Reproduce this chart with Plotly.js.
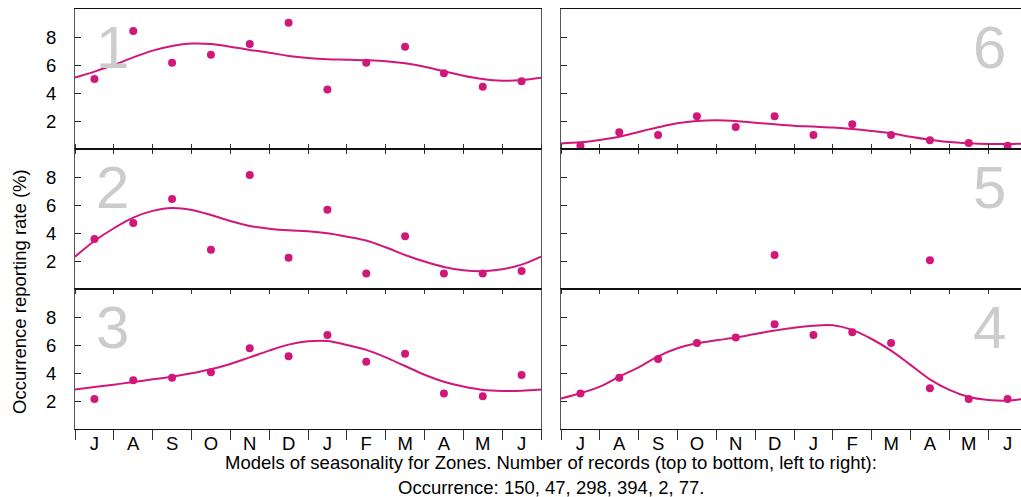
<!DOCTYPE html>
<html>
<head>
<meta charset="utf-8">
<script src="https://cdn.plot.ly/plotly-3.0.1.min.js"></script>
<style>
html,body{margin:0;padding:0;overflow:hidden;background:#fff;}
#chart{width:1040px;height:497px;}
</style>
</head>
<body>
<div id="chart"></div>
<script>
// ---- data ----
const months = ['J','A','S','O','N','D','J','F','M','A','M','J'];
const monthCenters = [0.5,1.5,2.5,3.5,4.5,5.5,6.5,7.5,8.5,9.5,10.5,11.5];
const monthEdges = [0,1,2,3,4,5,6,7,8,9,10,11,12];
const curveX = [0,0.5,1,1.5,2,2.5,3,3.5,4,4.5,5,5.5,6,6.5,7,7.5,8,8.5,9,9.5,10,10.5,11,11.5,12];
const panelLabels = ['1','2','3','6','5','4'];

const zone1Obs = [5.02,8.45,6.19,6.76,7.52,9.04,4.28,6.19,7.33,5.43,4.47,4.86];
const zone1Fit = [5.12,5.55,6.02,6.57,7.05,7.38,7.55,7.52,7.33,7.1,6.9,6.67,6.52,6.43,6.4,6.36,6.29,6.14,5.9,5.57,5.26,5.02,4.9,4.95,5.12];

const zone2Obs = [3.6,4.74,6.45,2.83,8.17,2.26,5.69,1.12,3.79,1.12,1.12,1.31];
const zone2Fit = [2.33,3.45,4.36,5.12,5.6,5.81,5.67,5.31,4.88,4.52,4.33,4.21,4.14,4.0,3.76,3.48,3.0,2.45,1.98,1.6,1.36,1.29,1.43,1.76,2.33];

const zone3Obs = [2.17,3.5,3.69,4.07,5.79,5.21,6.74,4.83,5.4,2.55,2.36,3.88];
const zone3Fit = [2.85,3.02,3.19,3.38,3.57,3.76,4.0,4.29,4.67,5.14,5.62,6.05,6.29,6.31,6.02,5.67,5.14,4.52,3.9,3.4,3.05,2.81,2.74,2.76,2.85];

const zone6Obs = [0.26,1.21,1.02,2.36,1.6,2.36,1.02,1.79,1.02,0.64,0.45,0.26];
const zone6Fit = [0.42,0.5,0.67,0.9,1.24,1.57,1.86,2.02,2.07,2.02,1.9,1.79,1.69,1.62,1.55,1.45,1.31,1.14,0.9,0.69,0.52,0.43,0.38,0.38,0.42];

const zone5Obs = [null,null,null,null,null,2.45,null,null,null,2.07,null,null];

const zone4Obs = [2.55,3.69,5.02,6.17,6.55,7.5,6.74,6.93,6.17,2.93,2.17,2.17];
const zone4Fit = [2.2,2.57,3.05,3.76,4.43,5.21,5.79,6.14,6.36,6.55,6.81,7.05,7.26,7.4,7.43,7.1,6.45,5.62,4.6,3.57,2.81,2.31,2.1,2.05,2.2];

const yTicks = [2,4,6,8];
const xTitle1 = 'Models of seasonality for Zones. Number of records (top to bottom, left to right):';
const xTitle2 = 'Occurrence: 150, 47, 298, 394, 2, 77.';
const yTitle = 'Occurrence reporting rate (%)';

// ---- layout geometry ----
const W = 1040, H = 497;
const MAG = '#d2177b';
const FONT = 'Liberation Sans, Arial, sans-serif';
const FS = 18.5;
const colX = [[75/W, 541/W],[561/W, 1027/W]];
const rowY = [[(H-149.3)/H,(H-9.3)/H],[(H-289.3)/H,(H-149.3)/H],[(H-429.3)/H,(H-289.3)/H]];

// panel order: left col rows 0..2 = zones 1,2,3 ; right col rows 0..2 = zones 6,5,4
const panels = [
  {obs: zone1Obs, fit: zone1Fit, col:0, row:0},
  {obs: zone2Obs, fit: zone2Fit, col:0, row:1},
  {obs: zone3Obs, fit: zone3Fit, col:0, row:2},
  {obs: zone6Obs, fit: zone6Fit, col:1, row:0},
  {obs: zone5Obs, fit: null,     col:1, row:1},
  {obs: zone4Obs, fit: zone4Fit, col:1, row:2}
];

const data = [];
const layout = {
  width: W, height: H,
  margin: {l:0, r:0, t:0, b:0},
  paper_bgcolor: '#fff', plot_bgcolor: '#fff',
  showlegend: false,
  font: {family: FONT, size: FS, color: '#000'},
  annotations: []
};

panels.forEach((p, i) => {
  const n = i + 1;
  const xa = n === 1 ? 'x' : 'x' + n;
  const ya = n === 1 ? 'y' : 'y' + n;
  const xk = n === 1 ? 'xaxis' : 'xaxis' + n;
  const yk = n === 1 ? 'yaxis' : 'yaxis' + n;
  const bottom = p.row === 2;
  if (p.fit) {
    data.push({x: curveX, y: p.fit, xaxis: xa, yaxis: ya, mode: 'lines',
      line: {color: MAG, width: 2, shape: 'spline', smoothing: 1}, hoverinfo: 'skip'});
  }
  data.push({x: monthCenters, y: p.obs, xaxis: xa, yaxis: ya, mode: 'markers',
    marker: {color: MAG, size: 8}, cliponaxis: false});

  layout[xk] = {
    domain: colX[p.col], range: [0, 12], anchor: ya,
    showgrid: false, zeroline: false,
    showline: true, linecolor: '#111', linewidth: 1,
    mirror: p.row === 1 ? 'ticks' : true,
    tickmode: 'array', tickvals: monthCenters, ticktext: months,
    ticks: '', showticklabels: bottom,
    tickfont: {family: FONT, size: FS, color: '#000'},
    ticklabelstandoff: -3,
    minor: {tickmode: 'array', tickvals: monthEdges, ticks: 'outside',
      ticklen: bottom ? 10 : 4, tickcolor: '#333', tickwidth: 1, showgrid: false},
    fixedrange: true
  };
  layout[yk] = {
    domain: rowY[p.row], range: [0, 10], anchor: xa,
    showgrid: false, zeroline: false,
    showline: true, linecolor: '#555', linewidth: 1, mirror: true,
    tickmode: 'array', tickvals: yTicks, ticktext: yTicks.map(String),
    ticks: 'inside', ticklen: 6, tickcolor: '#222', tickwidth: 1,
    showticklabels: p.col === 0,
    tickfont: {family: FONT, size: FS, color: '#000'},
    ticklabelstandoff: 14,
    fixedrange: true
  };
  layout.annotations.push({
    xref: xa, yref: ya,
    x: p.col === 0 ? 0.97 : 11.04, y: 7.25,
    xanchor: 'center', yanchor: 'middle',
    text: panelLabels[i], showarrow: false,
    font: {family: FONT, size: 60, color: '#cccccc'}
  });
});

layout.annotations.push(
  {xref:'paper', yref:'paper', x: 551/W, y: (H-462)/H, xanchor:'center', yanchor:'middle',
   text: xTitle1, showarrow:false, font:{family:FONT, size:FS, color:'#000'}},
  {xref:'paper', yref:'paper', x: 551/W, y: (H-487)/H, xanchor:'center', yanchor:'middle',
   text: xTitle2, showarrow:false, font:{family:FONT, size:FS, color:'#000'}},
  {xref:'paper', yref:'paper', x: 19/W, y: (H-292)/H, xanchor:'center', yanchor:'middle',
   text: yTitle, textangle: -90, showarrow:false, font:{family:FONT, size:FS, color:'#000'}}
);

Plotly.newPlot('chart', data, layout, {staticPlot: true, displayModeBar: false});
</script>
</body>
</html>
